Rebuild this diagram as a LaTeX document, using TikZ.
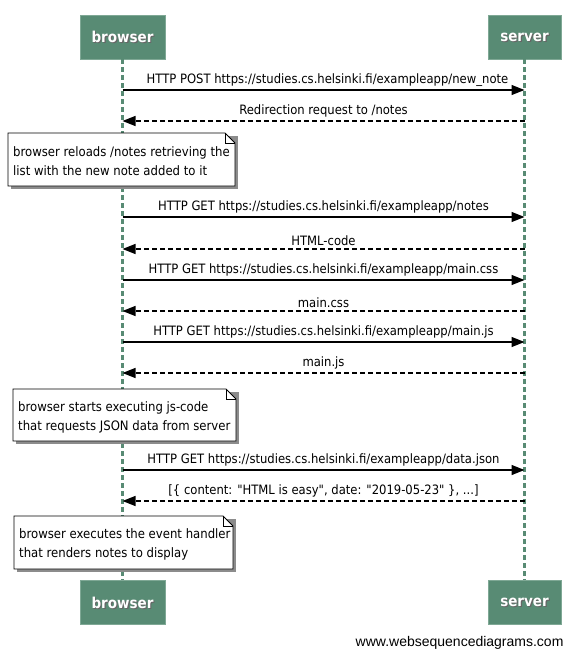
\documentclass[tikz,border=0pt]{standalone}
\usepackage{fontspec}
\setmainfont{DejaVu Sans Condensed}[Ligatures=TeXOff]
\newfontfamily\footfont{Liberation Sans}
\usetikzlibrary{arrows.meta}
\definecolor{boxc}{HTML}{588B74}
\definecolor{boxline}{HTML}{7FA895}
\newcommand\notebox[6]{%
  \fill[black!45] (#2+3,#3+3) rectangle (#4+3,#5+3);
  \draw[notestyle] (#2,#3) -- (#4-10,#3) -- (#4,#3+10) -- (#4,#5) -- (#2,#5) -- cycle;
  \draw[notestyle,fill=none] (#4-10,#3) -- (#4-10,#3+10) -- (#4,#3+10);
  \node[notetext,anchor=west] (#1) at (#2+2,{(#3+#5)/2+2}) {#6};
}
\begin{document}
\begin{tikzpicture}[x=1pt,y=-1pt,
  actor/.style={fill=boxc, draw=boxline, line width=0.8pt, minimum height=44pt, inner sep=0pt},
  actortext/.style={text=white, font=\bfseries\fontsize{15}{18}\selectfont},
  life/.style={draw=boxc, line width=2.2pt, dash pattern=on 5pt off 3pt},
  msg/.style={draw=black, line width=1.4pt, -{Triangle[length=13pt,width=10pt]}},
  ret/.style={msg, dash pattern=on 5pt off 3pt},
  lbl/.style={font=\fontsize{12.9}{15}\selectfont, anchor=south, inner sep=1pt, yshift=2pt},
  notestyle/.style={draw=black, fill=white, line width=0.8pt},
  notetext/.style={font=\fontsize{13}{19}\selectfont, align=left, inner sep=3pt}
]
\useasboundingbox (0,0) rectangle (577,658);
% participants
\node[actor, minimum width=85pt] (bt) at (122.5,37) {};
\node[actor, minimum width=73pt] (st) at (524.5,37) {};
\node[actor, minimum width=85pt] (bb) at (122.5,602.5) {};
\node[actor, minimum width=73pt] (sb) at (524.5,602.5) {};
\foreach \n/\t in {bt/browser,st/server,bb/browser,sb/server}{
  \node[actortext, text=black!60, xshift=1.2pt, yshift=-1.2pt] at (\n) {\t};
  \node[actortext] at (\n) {\t};
}
% lifelines
\draw[life] (bt.south) -- (bb.north);
\draw[life] (st.south) -- (sb.north);
% message endpoints
\foreach \i/\y in {1/90,2/121,3/217,4/249,5/280,6/311,7/342,8/373,9/470,10/501}{
  \coordinate (b\i) at (bt |- 0,\y);
  \coordinate (s\i) at (st |- 0,\y);
}
\draw[msg] (b1) -- node[lbl, xshift=4pt] {HTTP POST https://studies.cs.helsinki.fi/exampleapp/new\_note} (s1);
\draw[ret] (s2) -- node[lbl] {Redirection request to /notes} (b2);
\draw[msg] (b3) -- node[lbl] {HTTP GET https://studies.cs.helsinki.fi/exampleapp/notes} (s3);
\draw[ret] (s4) -- node[lbl] {HTML-code} (b4);
\draw[msg] (b5) -- node[lbl] {HTTP GET https://studies.cs.helsinki.fi/exampleapp/main.css} (s5);
\draw[ret] (s6) -- node[lbl] {main.css} (b6);
\draw[msg] (b7) -- node[lbl] {HTTP GET https://studies.cs.helsinki.fi/exampleapp/main.js} (s7);
\draw[ret] (s8) -- node[lbl] {main.js} (b8);
\draw[msg] (b9) -- node[lbl] {HTTP GET https://studies.cs.helsinki.fi/exampleapp/data.json} (s9);
\draw[ret] (s10) -- node[lbl] {[\{ content: "HTML is easy", date: "2019-05-23" \}, ...]} (b10);
% notes
\notebox{n1}{8}{133}{235}{186}{browser reloads /notes retrieving the\\list with the new note added to it}
\notebox{n2}{13}{389}{236}{441}{browser starts executing js-code\\that requests JSON data from server}
\notebox{n3}{14}{516}{233}{569}{browser executes the event handler\\that renders notes to display}
% footer
\node[font=\footfont\fontsize{14}{16}\selectfont, anchor=east] (foot) at (567,643) {www.websequencediagrams.com};
\end{tikzpicture}
\end{document}
